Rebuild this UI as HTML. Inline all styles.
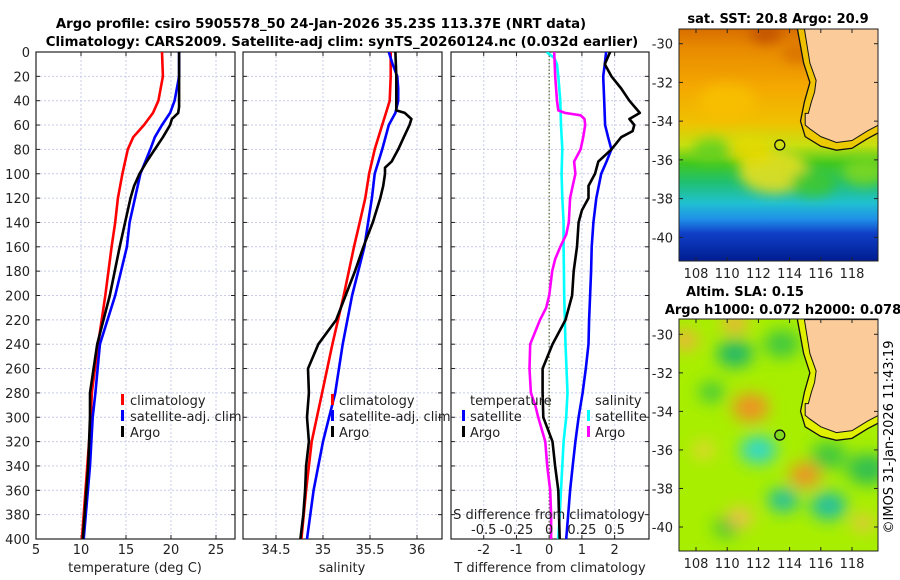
<!DOCTYPE html>
<html><head><meta charset="utf-8"><style>
body{margin:0;background:#fff;}
svg{display:block;font-family:"DejaVu Sans","Liberation Sans",sans-serif;}
</style></head><body>
<svg id="c" width="900" height="580" viewBox="0 0 900 580">
<defs>
<clipPath id="clipT"><rect x="36" y="52" width="199" height="487"/></clipPath>
<clipPath id="clipS"><rect x="243" y="52" width="199" height="487"/></clipPath>
<clipPath id="clipD"><rect x="451" y="52" width="198" height="487"/></clipPath>
<clipPath id="clipM1"><rect x="679" y="29" width="199" height="232"/></clipPath>
<clipPath id="clipM2"><rect x="679" y="319" width="199" height="232"/></clipPath>
<filter id="blur1" x="-20%" y="-20%" width="140%" height="140%"><feGaussianBlur stdDeviation="6"/></filter>
<filter id="blur2" x="-20%" y="-20%" width="140%" height="140%"><feGaussianBlur stdDeviation="8"/></filter>
<linearGradient id="sstg" x1="0" y1="0" x2="0" y2="1">
<stop offset="0" stop-color="#d86e00"/><stop offset="0.08" stop-color="#e88a00"/>
<stop offset="0.25" stop-color="#f4a800"/><stop offset="0.4" stop-color="#f0c000"/>
<stop offset="0.5" stop-color="#c8e010"/><stop offset="0.58" stop-color="#40c820"/>
<stop offset="0.66" stop-color="#20c070"/><stop offset="0.75" stop-color="#20c0d0"/>
<stop offset="0.82" stop-color="#2090e8"/><stop offset="0.88" stop-color="#1040c8"/>
<stop offset="1" stop-color="#001c90"/></linearGradient>
</defs>
<g id="titles">
<text x="321" y="28" font-size="13.3" font-weight="bold" text-anchor="middle">Argo profile: csiro 5905578_50 24-Jan-2026 35.23S 113.37E (NRT data)</text>
<text x="342" y="46" font-size="13.3" font-weight="bold" text-anchor="middle">Climatology: CARS2009. Satellite-adj clim: synTS_20260124.nc (0.032d earlier)</text>
<text x="778" y="23" font-size="13" font-weight="bold" text-anchor="middle">sat. SST: 20.8 Argo: 20.9</text>
<text x="745" y="296" font-size="13" font-weight="bold" text-anchor="middle">Altim. SLA: 0.15</text>
<text x="783" y="314" font-size="13" font-weight="bold" text-anchor="middle">Argo h1000: 0.072 h2000: 0.078</text>
<text transform="translate(893,437) rotate(-90)" font-size="13" text-anchor="middle">©IMOS 31-Jan-2026 11:43:19</text>
</g>
<g id="plots"></g>
</svg>
<script>
// depth grid / ticks
const depthTicks=[0,20,40,60,80,100,120,140,160,180,200,220,240,260,280,300,320,340,360,380,400];
const tempTicks=[5,10,15,20,25];
const salTicks=[34.5,35,35.5,36];
const tdiffTicks=[-2,-1,0,1,2];
const tdiffLabels=["-2","-1","0","1","2"];
const sdiffTicks=[-0.5,-0.25,0,0.25,0.5];
const sdiffLabels=["-0.5","-0.25","0","0.25","0.5"];
// temperature panel
const tClimDepth=[0,20,40,50,60,70,80,100,120,140,160,200,240,280,300,340,400];
const tClim=[19.0,19.1,18.6,18.0,17.0,15.8,15.2,14.6,14.1,13.8,13.4,12.7,11.9,11.2,11.1,10.7,10.1];
const tSatDepth=[0,20,40,50,60,70,80,100,120,140,160,200,240,280,300,340,400];
const tSat=[20.9,20.9,20.4,19.9,19.0,18.2,17.7,16.6,16.0,15.4,15.1,13.8,12.1,11.6,11.3,11.0,10.3];
const tArgoDepth=[0,20,45,50,55,60,70,80,90,100,110,120,140,160,200,240,280,300,340,400];
const tArgo=[20.9,20.9,20.9,20.8,20.1,19.9,19.1,18.2,17.3,16.5,15.9,15.5,14.9,14.3,13.2,11.8,11.0,11.0,10.8,10.2];
// salinity panel
const sClimDepth=[0,20,40,50,60,80,100,120,140,160,200,240,280,320,360,400];
const sClim=[35.72,35.72,35.71,35.67,35.63,35.55,35.49,35.45,35.39,35.33,35.22,35.10,34.99,34.88,34.82,34.77];
const sSatDepth=[0,10,20,30,40,50,60,80,100,120,140,160,200,240,280,320,360,400];
const sSat=[35.70,35.74,35.79,35.80,35.80,35.77,35.70,35.63,35.55,35.52,35.48,35.44,35.31,35.21,35.13,35.00,34.90,34.83];
const sArgoDepth=[0,20,40,48,50,55,60,70,80,90,95,100,110,120,140,160,180,200,220,240,260,280,300,320,340,360,380,400];
const sArgo=[35.77,35.78,35.78,35.78,35.87,35.94,35.92,35.86,35.80,35.73,35.66,35.66,35.64,35.61,35.53,35.43,35.34,35.24,35.14,34.95,34.84,34.85,34.83,34.85,34.82,34.81,34.79,34.76];
// difference panel (T units for temperature, S units for salinity)
const dTSatDepth=[0,10,20,40,60,70,80,90,100,120,140,160,180,200,220,240,260,280,300,320,340,360,380,400];
const dTSat=[1.74,1.70,1.65,1.68,1.71,1.80,1.90,1.75,1.59,1.44,1.35,1.30,1.28,1.25,1.22,1.20,1.12,1.02,0.90,0.80,0.72,0.64,0.58,0.52];
const dTArgoDepth=[0,10,20,30,40,50,55,60,65,70,80,90,100,110,120,130,140,160,180,200,220,240,260,280,300,320,340,360,380,400];
const dTArgo=[1.86,1.70,1.90,2.20,2.45,2.77,2.45,2.60,2.55,2.20,1.90,1.50,1.40,1.20,1.20,1.00,0.90,0.85,0.75,0.70,0.50,0.10,-0.20,-0.20,-0.18,0.10,0.18,0.28,0.30,0.32];
const dSSatDepth=[0,5,10,20,40,60,80,100,120,140,160,200,240,280,300,320,340,360,380,400];
const dSSat=[-0.02,0.04,0.06,0.07,0.085,0.09,0.10,0.095,0.10,0.11,0.11,0.115,0.125,0.14,0.13,0.11,0.10,0.09,0.08,0.07];
const dSArgoDepth=[0,20,40,48,50,52,55,60,70,80,90,100,110,120,140,150,160,170,180,200,210,220,240,260,280,290,300,320,340,360,380,400];
const dSArgo=[0.038,0.046,0.06,0.07,0.12,0.24,0.27,0.275,0.26,0.24,0.19,0.20,0.18,0.16,0.15,0.13,0.085,0.046,0.023,0,-0.023,-0.07,-0.145,-0.15,-0.14,-0.107,-0.084,-0.03,-0.015,0.008,0.015,0.015];
// maps
const lonTicks=[108,110,112,114,116,118];
const latTicks=[-30,-32,-34,-36,-38,-40];
const argoLon=113.37, argoLat=-35.23;
const landLon=[114.95,115.1,115.3,115.7,115.6,115.4,115.2,115.0,115.0,115.3,116.0,117.0,118.0,119.0,119.7,119.7];
const landLat=[-29.24,-30.0,-31.0,-31.9,-32.5,-33.0,-33.6,-33.6,-34.2,-34.4,-34.8,-35.1,-35.0,-34.5,-34.2,-29.24];
const isoLon=[114.5,114.9,115.3,114.95,114.7,115.0,116.0,117.0,118.0,119.0,119.7];
const isoLat=[-29.24,-31.0,-32.0,-33.0,-34.0,-34.8,-35.3,-35.5,-35.4,-34.9,-34.6];
const sstBlobLon=[113.0,111.5,115.5,118.8,110.0,112.5,109.0,114.5];
const sstBlobLat=[-36.6,-35.5,-37.2,-36.6,-33.0,-29.5,-35.5,-30.5];
const sstBlobCol=["#f0e020","#e8d800","#40c830","#80d820","#f8c000","#c05000","#60d020","#d87000"];
const sstBlobR=[22,14,14,14,18,10,12,10];
const slaBlobLon=[110.5,112.0,113.6,116.5,119.0,109.0,110.0,113.5,111.5,115.0,110.5,107.3,110.8,118.7,116.5,108.5];
const slaBlobLat=[-31.0,-36.0,-38.6,-38.9,-37.0,-33.0,-40.0,-30.5,-33.8,-37.3,-29.4,-30.3,-39.5,-39.8,-36.3,-36.0];
const slaBlobCol=["#20b868","#30d8c8","#20c0a0","#20c0a0","#30c050","#40c840","#30c040","#40c840","#f09028","#f09028","#f0b040","#f0b040","#f0c050","#f0c050","#40c840","#f0d040"];
const slaBlobR=[14,14,12,14,16,10,10,14,14,12,10,10,10,8,14,8];

const NS="http://www.w3.org/2000/svg";
const root=document.getElementById('plots');
function mk(tag,attrs,parent){const e=document.createElementNS(NS,tag);for(const k in attrs)e.setAttribute(k,attrs[k]);(parent||root).appendChild(e);return e;}
const Y0=52,Y1=539;
const yD=d=>Y0+(d/400)*(Y1-Y0);

function panel(name,x0,x1,xmin,xmax,ticks,labels,clip){
  const g=mk('g',{});
  
  
  const xs=v=>x0+(v-xmin)/(xmax-xmin)*(x1-x0);
  ticks.forEach(t=>{const gl=mk('line',{x1:xs(t),x2:xs(t),y1:Y0,y2:Y1,stroke:'#c8cce8','stroke-dasharray':'2,2','stroke-width':1},g);
    });
  depthTicks.forEach(d=>{if(d==0||d==400)return;const gl=mk('line',{x1:x0,x2:x1,y1:yD(d),y2:yD(d),stroke:'#c8cce8','stroke-dasharray':'2,2','stroke-width':1},g);
    });
  ticks.forEach((t,i)=>{mk('line',{x1:xs(t),x2:xs(t),y1:Y1,y2:Y1-4,stroke:'#222'},g);mk('line',{x1:xs(t),x2:xs(t),y1:Y0,y2:Y0+4,stroke:'#222'},g);
    const tx=mk('text',{x:xs(t),y:Y1+15,'font-size':13,'text-anchor':'middle',fill:'#222'},g);tx.textContent=labels[i];
    });
  depthTicks.forEach(d=>{mk('line',{x1:x0,x2:x0+4,y1:yD(d),y2:yD(d),stroke:'#222'},g);mk('line',{x1:x1,x2:x1-4,y1:yD(d),y2:yD(d),stroke:'#222'},g);});
  const fr=mk('rect',{x:x0,y:Y0,width:x1-x0,height:Y1-Y0,fill:'none',stroke:'#222','stroke-width':1.2},g);
  
  return {g,xs};
}
function line(p,depths,vals,color,clip,name,scale){
  const pts=depths.map((d,i)=>p.xs(vals[i]*(scale||1)).toFixed(1)+','+yD(d).toFixed(1)).join(' ');
  const l=mk('polyline',{points:pts,fill:'none',stroke:color,'stroke-width':2.6,'stroke-linejoin':'round','clip-path':'url(#'+clip+')'},p.g);
  
  
}
function txt(x,y,s,name,opt){const t=mk('text',Object.assign({x:x,y:y,'font-size':13,fill:'#222'},opt||{}));t.textContent=s;
  
  return t;}
function mark(x,y,c){mk('rect',{x:x,y:y-11,width:3,height:11,fill:c});}

depthTicks.forEach(d=>{txt(30,yD(d)+5,String(d),'depth-tick-label',{'text-anchor':'end'});});

const pT=panel('temperature-panel',36,235,5,27.11,tempTicks,tempTicks.map(String),'clipT');
line(pT,tClimDepth,tClim,'#ff0000','clipT','temp-climatology-line');
line(pT,tSatDepth,tSat,'#0000ff','clipT','temp-satellite-line');
line(pT,tArgoDepth,tArgo,'#000000','clipT','temp-argo-line');
txt(135,572,'temperature (deg C)','temp-x-axis-title',{'text-anchor':'middle'});
mark(121,405,'#ff0000');txt(130,405,'climatology','legend-climatology');
mark(121,421,'#0000ff');txt(130,421,'satellite-adj. clim','legend-satellite');
mark(121,437,'#000');txt(130,437,'Argo','legend-argo');

const pS=panel('salinity-panel',243,442,34.149,36.266,salTicks,salTicks.map(String),'clipS');
line(pS,sClimDepth,sClim,'#ff0000','clipS','sal-climatology-line');
line(pS,sSatDepth,sSat,'#0000ff','clipS','sal-satellite-line');
line(pS,sArgoDepth,sArgo,'#000000','clipS','sal-argo-line');
txt(342,572,'salinity','sal-x-axis-title',{'text-anchor':'middle'});
mark(331,405,'#ff0000');txt(339,405,'climatology','legend-climatology');
mark(331,421,'#0000ff');txt(339,421,'satellite-adj. clim','legend-satellite');
mark(331,437,'#000');txt(339,437,'Argo','legend-argo');

const pD=panel('difference-panel',451,649,-3.0,3.05,tdiffTicks,tdiffLabels,'clipD');
mk('line',{x1:pD.xs(0),x2:pD.xs(0),y1:Y0,y2:Y1,stroke:'#556b2f','stroke-dasharray':'1.5,2','stroke-width':1.2},pD.g);
line(pD,dSSatDepth,dSSat,'#00ffff','clipD','sal-diff-satellite-line',4);
line(pD,dSArgoDepth,dSArgo,'#ff00ff','clipD','sal-diff-argo-line',4);
line(pD,dTSatDepth,dTSat,'#0000ff','clipD','temp-diff-satellite-line');
line(pD,dTArgoDepth,dTArgo,'#000000','clipD','temp-diff-argo-line');
txt(550,572,'T difference from climatology','tdiff-x-axis-title',{'text-anchor':'middle'});
txt(549,519,'S difference from climatology','sdiff-axis-title',{'text-anchor':'middle'});
sdiffTicks.forEach((s,i)=>{txt(pD.xs(s*4),534,sdiffLabels[i],'sdiff-tick-label',{'text-anchor':'middle'});});
txt(470,405,'temperature','legend-temperature-header');
mark(462,421,'#0000ff');txt(470,421,'satellite','legend-temp-satellite');
mark(462,437,'#000');txt(470,437,'Argo','legend-temp-argo');
txt(595,405,'salinity','legend-salinity-header');
mark(587,421,'#00ffff');txt(595,421,'satellite','legend-sal-satellite');
mark(587,437,'#ff00ff');txt(595,437,'Argo','legend-sal-argo');

function map(name,top,bottom,lat30y,lat40y,clip,kind){
  const g=mk('g',{});
  
  
  const x0=679,x1=878;
  const xs=lo=>696+(lo-108)*15.6;
  const ys=la=>lat30y+(-30-la)*(lat40y-lat30y)/10;
  const inner=mk('g',{'clip-path':'url(#'+clip+')'},g);
  if(kind=='sst'){
    mk('rect',{x:x0,y:top,width:x1-x0,height:bottom-top,fill:'url(#sstg)'},inner);
    const b=mk('g',{filter:'url(#blur1)'},inner);
    sstBlobLon.forEach((lo,i)=>{const e=mk('ellipse',{cx:xs(lo),cy:ys(sstBlobLat[i]),rx:sstBlobR[i]*1.6,ry:sstBlobR[i],fill:sstBlobCol[i],opacity:0.85},b);
      });
  } else {
    mk('rect',{x:x0,y:top,width:x1-x0,height:bottom-top,fill:'#a8ee00'},inner);
    const b=mk('g',{filter:'url(#blur2)'},inner);
    slaBlobLon.forEach((lo,i)=>{const e=mk('ellipse',{cx:xs(lo),cy:ys(slaBlobLat[i]),rx:slaBlobR[i]*1.3,ry:slaBlobR[i],fill:slaBlobCol[i]},b);
      });
  }
  const isoPts=isoLon.map((lo,i)=>xs(lo)+','+ys(isoLat[i])).join(' ');
  mk('polygon',{points:isoPts+' '+xs(119.7)+','+ys(-29.24),fill:kind=='sst'?'#f0c800':'#e8f000',opacity:0.9},inner);
  const land=mk('polygon',{points:landLon.map((lo,i)=>xs(lo)+','+ys(landLat[i])).join(' '),fill:'#fbcb9a',stroke:'#111','stroke-width':1},inner);
  
  const iso=mk('polyline',{points:isoPts,fill:'none',stroke:'#111','stroke-width':1.3},inner);
  
  const c=mk('circle',{cx:xs(argoLon),cy:ys(argoLat),r:5,fill:kind=='sst'?'none':'#80d820',stroke:'#111','stroke-width':1.3},g);
  
  mk('rect',{x:x0,y:top,width:x1-x0,height:bottom-top,fill:'none',stroke:'#222'},g);
  lonTicks.forEach(lo=>{mk('line',{x1:xs(lo),x2:xs(lo),y1:bottom,y2:bottom-4,stroke:'#222'},g);mk('line',{x1:xs(lo),x2:xs(lo),y1:top,y2:top+4,stroke:'#222'},g);
    txt(xs(lo),bottom+17,String(lo),'lon-tick-label',{'text-anchor':'middle'});});
  latTicks.forEach(la=>{mk('line',{x1:x0,x2:x0+4,y1:ys(la),y2:ys(la),stroke:'#222'},g);mk('line',{x1:x1,x2:x1-4,y1:ys(la),y2:ys(la),stroke:'#222'},g);
    txt(673,ys(la)+5,String(la),'lat-tick-label',{'text-anchor':'end'});});
}
map('sst-map',29,261,43.7,237.3,'clipM1','sst');
map('sla-map',319,551,334.3,527,'clipM2','sla');
</script>
</body></html>
